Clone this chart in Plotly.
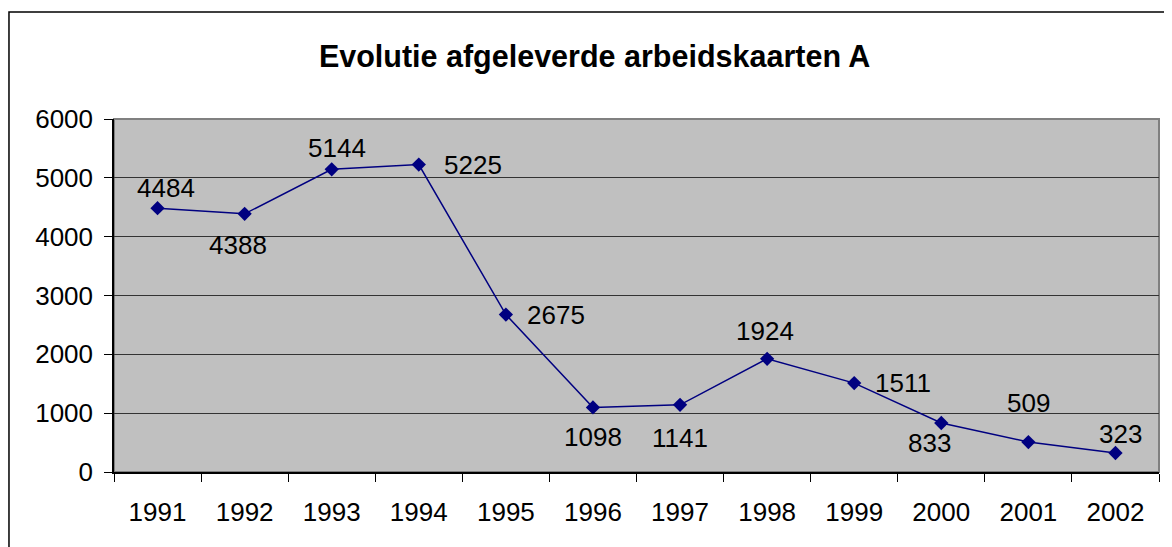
import plotly.graph_objects as go

# 数据
years = [1991, 1992, 1993, 1994, 1995, 1996,
         1997, 1998, 1999, 2000, 2001, 2002]
kaarten = [4484, 4388, 5144, 5225, 2675, 1098, 1141, 1924, 1511, 833, 509, 323]

# 数据标签相对点位的偏移（像素）
label_dx = [8, -7, 5, 54, 50, 0, 0, -2, 49, -12, 0, 5]
label_dy = [20, -31, 21, 0, 0, -30, -33, 28, 0, -20, 39, 19]

FONT = "Liberation Sans, Arial, sans-serif"
NAVY = "#000080"
TXT = 26

fig = go.Figure()

fig.add_trace(
    go.Scatter(
        x=years,
        y=kaarten,
        mode="lines+markers",
        line=dict(color=NAVY, width=1.5),
        marker=dict(symbol="diamond", size=11, color=NAVY),
        showlegend=False,
        hoverinfo="x+y",
    )
)

for x, y, dx, dy in zip(years, kaarten, label_dx, label_dy):
    fig.add_annotation(
        x=x, y=y, text=str(y), showarrow=False,
        xshift=dx, yshift=dy,
        font=dict(family=FONT, size=TXT, color="black"),
    )

# 外框（右、下边在画面外）+ 绘图区边框
fig.add_shape(type="rect", xref="paper", yref="paper",
              x0=-0.1005, x1=1.05, y0=-0.4, y1=1.303,
              line=dict(color="black", width=1.5), layer="below")
fig.add_shape(type="rect", xref="paper", yref="paper",
              x0=0, x1=1, y0=0, y1=1,
              line=dict(color="#808080", width=2), layer="below")

# 页面 body 有 8px 边距，尺寸与边距相应扣除
fig.update_layout(
    width=1164,
    height=539,
    margin=dict(l=106, r=13, t=111, b=75),
    paper_bgcolor="white",
    plot_bgcolor="#C0C0C0",
    font=dict(family=FONT, size=TXT, color="black"),
    title=dict(
        text="<b>Evolutie afgeleverde arbeidskaarten A</b>",
        x=0.504, xanchor="center", xref="container",
        y=0.91, yanchor="middle",
        font=dict(family=FONT, size=30.5, color="black"),
    ),
    xaxis=dict(
        range=[1990.5, 2002.5],
        tickmode="array", tickvals=years,
        ticktext=[str(y) for y in years],
        ticks="",
        minor=dict(tick0=1990.5, dtick=1, ticks="outside", ticklen=8,
                   tickcolor="black", tickwidth=1, showgrid=False),
        showline=True, linecolor="black", linewidth=1.5,
        showgrid=False, zeroline=False,
        ticklabelstandoff=16,
        tickfont=dict(family=FONT, size=TXT),
    ),
    yaxis=dict(
        range=[0, 6000],
        tickvals=[0, 1000, 2000, 3000, 4000, 5000, 6000],
        ticks="outside", ticklen=8, tickcolor="black", tickwidth=1,
        showline=True, linecolor="black", linewidth=1.5,
        showgrid=True, gridcolor="#333333", gridwidth=1,
        zeroline=False,
        ticklabelstandoff=6,
        tickfont=dict(family=FONT, size=TXT),
    ),
)

fig.write_html("out.html")
